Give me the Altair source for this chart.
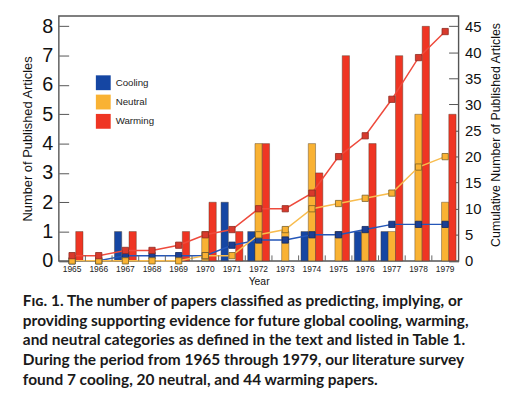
import altair as alt
import pandas as pd

years = [str(y) for y in range(1965, 1980)]
categories = ["Cooling", "Neutral", "Warming"]

cooling = [0, 0, 1, 0, 0, 0, 2, 1, 0, 1, 0, 1, 1, 0, 0]
neutral = [0, 0, 0, 0, 0, 1, 0, 4, 1, 4, 1, 1, 1, 5, 2]
warming = [1, 0, 1, 0, 1, 2, 1, 4, 0, 3, 7, 4, 7, 8, 5]

cum_cooling = [0, 0, 1, 1, 1, 1, 3, 4, 4, 5, 5, 6, 7, 7, 7]
cum_neutral = [0, 0, 0, 0, 0, 1, 1, 5, 6, 10, 11, 12, 13, 18, 20]
cum_warming = [1, 1, 2, 2, 3, 5, 6, 10, 10, 13, 20, 24, 31, 39, 44]

left_ticks = [0, 1, 2, 3, 4, 5, 6, 7, 8]
right_ticks = [0, 5, 10, 15, 20, 25, 30, 35, 40, 45]

caption_lines = [
    "F\u026a\u0262. 1. The number of papers classified as predicting, implying, or",
    "providing supporting evidence for future global cooling, warming,",
    "and neutral categories as defined in the text and listed in Table 1.",
    "During the period from 1965 through 1979, our literature survey",
    "found 7 cooling, 20 neutral, and 44 warming papers.",
]

bar_colors = ["#1546A3", "#F9B233", "#EF3523"]
line_colors = ["#2456B8", "#F8BC4E", "#EE4A3C"]
marker_fill = ["#1B3F93", "#F9B233", "#D8392C"]
marker_stroke = ["#0E2660", "#7A6126", "#8E2A20"]

rows = []
for i, y in enumerate(years):
    for c, vals in zip(categories, [cooling, neutral, warming]):
        if vals[i] > 0:
            rows.append({"year": y, "category": c, "count": vals[i]})
bars_df = pd.DataFrame(rows)

crows = []
for c, vals in zip(categories, [cum_cooling, cum_neutral, cum_warming]):
    for i, y in enumerate(years):
        crows.append({"year": y, "category": c, "cum": vals[i]})
cum_df = pd.DataFrame(crows)

W, H = 404, 247.5
left_max = 8.354
right_max = left_max * 45 / 8

xscale = alt.Scale(domain=years, paddingInner=0.18, paddingOuter=0.09)
x_enc = alt.X("year:N", scale=xscale,
              axis=alt.Axis(title="Year", labelAngle=0, labelFontSize=8.5, ticks=False,
                            domain=False, labelPadding=3.5, titleFontSize=10.5,
                            titleFontWeight="normal", titleY=21, titleBaseline="middle",
                            labelColor="#222", titleColor="#111"))

bars = alt.Chart(bars_df).mark_bar(stroke="#4a3a2a", strokeWidth=0.6, strokeOpacity=0.7).encode(
    x=x_enc,
    xOffset=alt.XOffset("category:N", scale=alt.Scale(domain=categories, paddingInner=0, paddingOuter=0)),
    y=alt.Y("count:Q", scale=alt.Scale(domain=[0, left_max], nice=False, zero=True),
            axis=alt.Axis(orient="left", values=left_ticks, title="Number of Published Articles",
                          labelFontSize=20, tickSize=alt.ExprRef("-10"), domain=False,
                          grid=False, labelPadding=16, titleFontSize=13, titleFontWeight="normal",
                          titleX=-32, titleY=H / 2, titleBaseline="middle", titleAngle=270,
                          tickColor="#555", labelColor="#111", titleColor="#111")),
    color=alt.Color("category:N", scale=alt.Scale(domain=categories, range=bar_colors),
                    legend=alt.Legend(title=None, orient="none", legendX=37.5, legendY=60,
                                      symbolType="square", symbolSize=225, symbolStrokeWidth=0,
                                      labelFontSize=9.8, labelOffset=5, rowPadding=4.5,
                                      padding=0, symbolOpacity=1, labelColor="#222")),
)

lines = alt.Chart(cum_df).mark_line(strokeWidth=1.5).encode(
    x=alt.X("year:N", scale=xscale),
    y=alt.Y("cum:Q", scale=alt.Scale(domain=[0, right_max], nice=False, zero=True),
            axis=alt.Axis(orient="right", values=right_ticks,
                          title="Cumulative Number of Published Articles",
                          labelFontSize=15, tickSize=alt.ExprRef("-10"), domain=False, grid=False,
                          labelPadding=16, titleFontSize=12.5, titleFontWeight="normal",
                          titleX=37, titleY=H / 2 - 4, titleBaseline="middle", titleAngle=270,
                          tickColor="#555", labelColor="#111", titleColor="#111")),
    stroke=alt.Stroke("category:N", scale=alt.Scale(domain=categories, range=line_colors), legend=None),
    detail="category:N",
)

points = alt.Chart(cum_df).mark_point(shape="square", size=40, filled=True, strokeWidth=0.8, opacity=1).encode(
    x=alt.X("year:N", scale=xscale),
    y=alt.Y("cum:Q", scale=alt.Scale(domain=[0, right_max], nice=False, zero=True), axis=None),
    fill=alt.Fill("category:N", scale=alt.Scale(domain=categories, range=marker_fill), legend=None),
    stroke=alt.Stroke("category:N", scale=alt.Scale(domain=categories, range=marker_stroke), legend=None),
)

xticks = alt.Chart(pd.DataFrame({"year": years})).mark_rule(color="#666", strokeWidth=1, xOffset=-W / 30).encode(
    x=alt.X("year:N", scale=xscale),
    y=alt.value(H), y2=alt.value(H - 5.5),
)

caption_layers = []
base_y = 293
for i, line in enumerate(caption_lines):
    caption_layers.append(
        alt.Chart(pd.DataFrame({"t": [line]})).mark_text(
            align="left", baseline="alphabetic", font="Lato", fontWeight="bold",
            fontSize=15.6, color="#1a1a1a"
        ).encode(x=alt.value(-36.3), y=alt.value(base_y + i * 19.9), text="t:N")
    )

chart = alt.layer(bars, lines, points, xticks, *caption_layers).resolve_scale(
    y="independent", color="independent", stroke="independent", fill="independent"
).properties(
    width=W, height=H,
    autosize=alt.AutoSizeParams(type="none"),
    padding={"left": 51.3, "top": 6, "right": 46, "bottom": 130},
).configure_view(
    stroke="#555", strokeWidth=1.4
).configure_axis(
    labelFont="Liberation Sans", titleFont="Liberation Sans"
).configure_legend(
    labelFont="Liberation Sans"
)

chart.save("out.html", embed_options={"renderer": "svg", "actions": False})
